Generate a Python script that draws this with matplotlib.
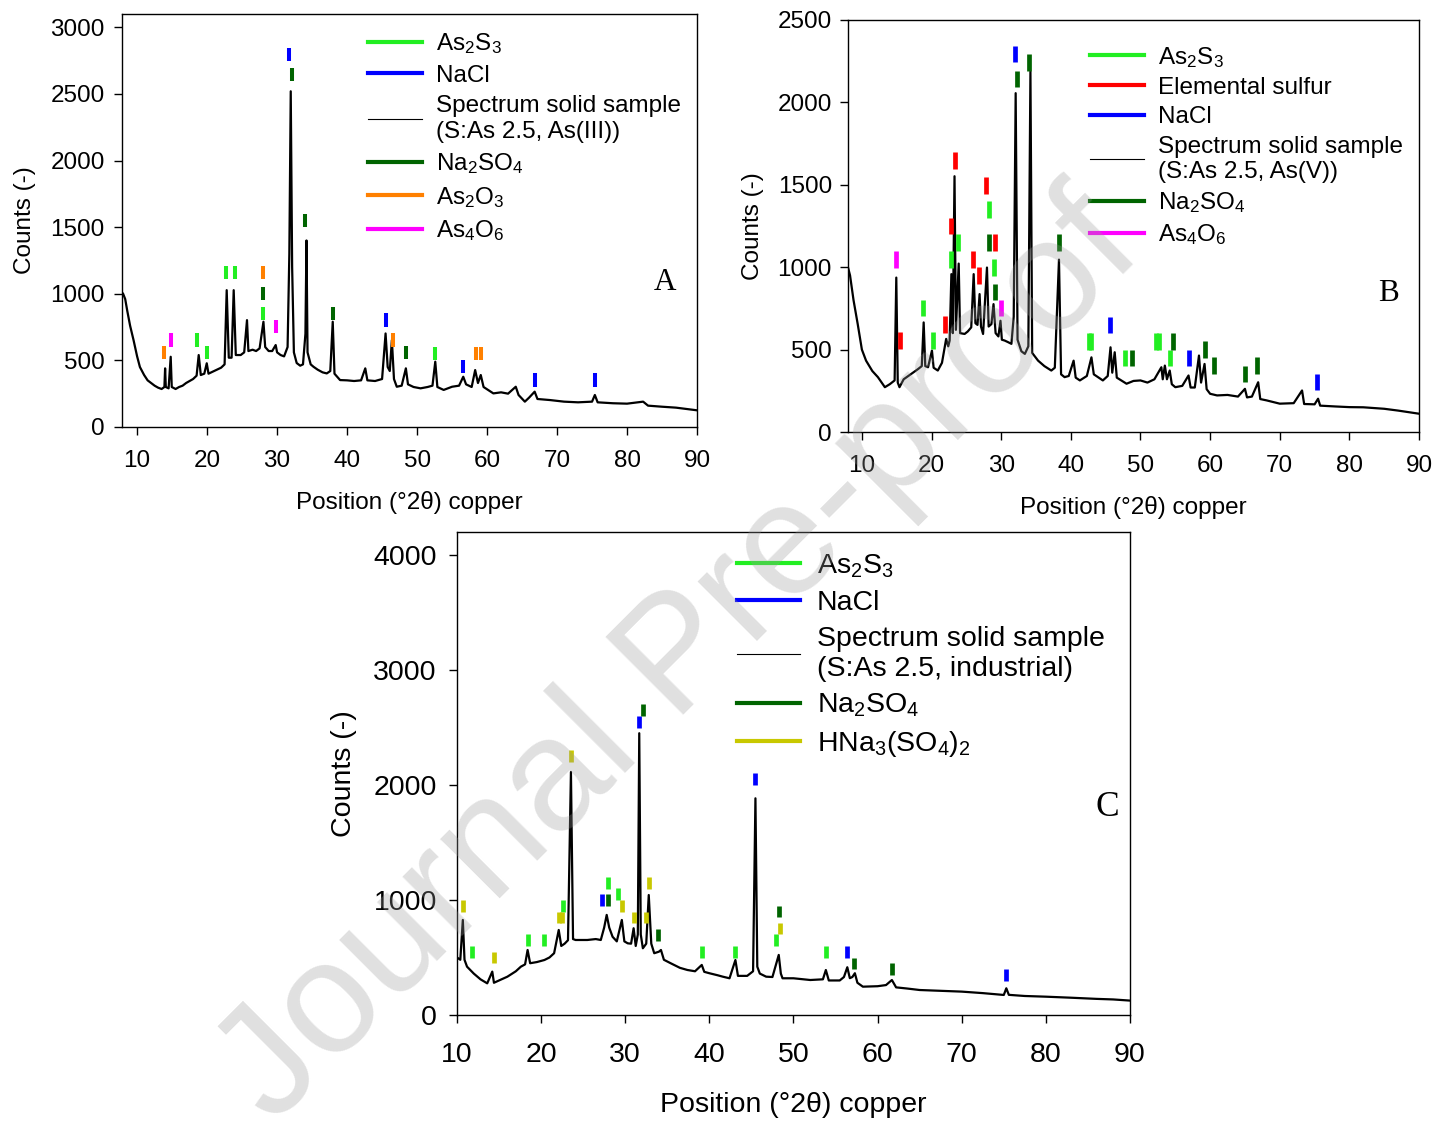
import matplotlib
matplotlib.use('Agg')
import matplotlib.pyplot as plt
from matplotlib.lines import Line2D

plt.rcParams['font.family'] = ['Liberation Sans', 'DejaVu Sans']
plt.rcParams['mathtext.fontset'] = 'custom'
plt.rcParams['mathtext.rm'] = 'Liberation Sans'
plt.rcParams['mathtext.it'] = 'Liberation Sans'
plt.rcParams['mathtext.default'] = 'regular'

# phase colours
GREEN = '#22ee22'
BLUE = '#0000ff'
DKGREEN = '#006400'
ORANGE = '#ff8000'
MAGENTA = '#ff00ff'
RED = '#ff0000'
YELLOW = '#c8c800'

# ---- panel A: S:As 2.5, As(III) ----
angle_a = [8.0, 8.3, 8.6, 9.0, 9.5, 10.0, 10.4, 11.0, 11.5, 12.0, 12.5, 13.0, 13.5, 13.9, 14.0,
           14.1, 14.5, 14.8, 14.95, 15.5, 16.0, 16.5, 17.0, 17.5, 18.0, 18.5, 18.8, 19.1, 19.6,
           19.95, 20.2, 21.0, 22.0, 22.5, 22.8, 23.1, 23.5, 23.8, 24.1, 24.8, 25.3, 25.7, 25.9,
           26.5, 27.0, 27.5, 28.05, 28.3, 28.8, 29.3, 29.8, 30.0, 30.5, 31.0, 31.5, 31.75, 31.95,
           32.15, 32.4, 32.8, 33.3, 33.7, 34.05, 34.2, 34.35, 34.8, 35.2, 35.8, 36.5, 37.1, 37.6,
           37.95, 38.2, 39.0, 40.0, 41.0, 42.0, 42.6, 42.9, 44.0, 45.0, 45.5, 45.8, 46.1, 46.4,
           46.7, 47.1, 47.8, 48.4, 48.7, 49.5, 50.5, 51.5, 52.2, 52.6, 52.9, 53.8, 55.0, 56.0,
           56.6, 57.0, 57.8, 58.3, 58.7, 59.1, 59.5, 60.9, 62.0, 63.0, 64.1, 64.5, 65.4, 66.0,
           66.8, 67.2, 69.0, 71.0, 73.0, 75.0, 75.4, 75.8, 78.0, 80.0, 82.3, 83.0, 85.0, 87.0,
           88.5, 90.0]
counts_a = [1000, 960, 870, 760, 650, 530, 450, 390, 350, 330, 310, 295, 285, 300, 440,
            300, 290, 527, 300, 285, 300, 310, 330, 345, 360, 385, 540, 390, 400,
            478, 400, 420, 445, 470, 1027, 520, 520, 1027, 540, 540, 560, 802, 570,
            580, 570, 590, 790, 600, 570, 570, 615, 560, 540, 530, 600, 1300, 2520,
            1200, 560, 480, 460, 470, 700, 1400, 560, 470, 452, 430, 410, 402, 420,
            790, 400, 352, 350, 345, 350, 440, 350, 345, 360, 702, 450, 420, 652,
            360, 302, 310, 440, 320, 300, 290, 300, 310, 490, 300, 278, 302, 310,
            377, 320, 300, 427, 330, 390, 300, 252, 260, 250, 302, 240, 190, 220,
            265, 210, 202, 190, 185, 190, 240, 185, 178, 175, 190, 160, 152, 145,
            135, 125]

as2s3_a = [(18.6, 602), (19.95, 508), (22.7, 1108), (24.0, 1108), (28.0, 802), (52.5, 502)]
nacl_a = [(31.7, 2747), (45.5, 752), (56.5, 402), (66.8, 302), (75.4, 302)]
na2so4_a = [(28.0, 952), (32.2, 2597), (34.0, 1502), (38.0, 802), (48.4, 508)]
as2o3_a = [(13.8, 508), (28.0, 1108), (46.5, 602), (58.4, 502), (59.2, 502)]
as4o6_a = [(14.8, 602), (29.9, 702)]

# ---- panel B: S:As 2.5, As(V) ----
angle_b = [8.0, 8.3, 8.8, 9.4, 10.0, 10.6, 11.5, 12.3, 13.3, 14.0, 14.7, 14.94, 15.15, 15.4,
           16.0, 17.1, 18.0, 18.6, 18.87, 19.1, 19.5, 20.06, 20.3, 20.9, 21.5, 22.1, 22.4,
           22.6, 22.85, 23.05, 23.3, 23.5, 23.9, 24.1, 24.75, 25.2, 25.7, 26.05, 26.3, 26.6,
           26.9, 27.1, 27.4, 27.96, 28.2, 28.6, 28.9, 29.2, 29.6, 29.9, 30.1, 30.5, 31.0,
           31.47, 31.8, 32.08, 32.35, 32.9, 33.4, 33.9, 34.2, 34.45, 35.3, 36.2, 37.2, 37.7,
           38.3, 38.6, 39.1, 39.7, 40.4, 40.7, 41.3, 42.3, 42.96, 43.3, 44.6, 45.3, 45.7,
           45.95, 46.3, 46.6, 48.0, 49.0, 50.0, 51.0, 52.0, 53.0, 53.2, 53.5, 53.8, 54.2,
           54.5, 55.0, 56.0, 56.9, 57.2, 57.8, 58.4, 58.7, 59.2, 59.5, 60.0, 61.0, 62.5,
           64.0, 65.0, 65.3, 66.0, 66.9, 67.2, 68.1, 70.0, 72.0, 73.2, 73.5, 75.0, 75.5,
           75.8, 78.0, 80.0, 82.0, 85.0, 87.0, 90.0]
counts_b = [1000, 950, 800, 655, 500, 433, 370, 333, 272, 290, 313, 937, 300, 272,
            320, 353, 380, 400, 665, 400, 393, 494, 390, 373, 420, 565, 520,
            555, 958, 600, 1552, 620, 1022, 600, 595, 610, 635, 958, 660, 650,
            837, 640, 595, 998, 640, 655, 776, 600, 580, 675, 560, 555, 545,
            535, 700, 2056, 560, 490, 474, 520, 2187, 480, 433, 400, 373, 390,
            1046, 350, 333, 340, 433, 330, 313, 340, 453, 350, 313, 340, 514,
            360, 484, 330, 293, 310, 313, 300, 320, 393, 320, 403, 320, 373,
            290, 272, 280, 343, 270, 270, 464, 300, 413, 260, 232, 222, 225,
            215, 262, 210, 215, 302, 200, 192, 172, 175, 252, 170, 168, 202,
            160, 155, 151, 150, 141, 130, 111]

as2s3_b = [(18.8, 701), (20.2, 504), (22.8, 998), (23.8, 1099), (28.2, 1300), (28.9, 947),
           (42.65, 500), (42.95, 500), (47.85, 399), (52.3, 500), (52.6, 500), (54.3, 399)]
sulfur_b = [(15.5, 504), (22.0, 601), (22.8, 1200), (23.3, 1596), (26.0, 998), (26.87, 901),
            (27.8, 1447), (29.1, 1099)]
nacl_b = [(31.94, 2244), (45.6, 599), (56.95, 399), (75.4, 252)]
na2so4_b = [(28.2, 1099), (29.1, 800), (32.2, 2092), (34.0, 2191), (38.3, 1099), (48.8, 399),
            (54.7, 500), (59.3, 450), (60.5, 353), (65.0, 302), (66.8, 353)]
as4o6_b = [(14.94, 998), (29.97, 701)]

# ---- panel C: S:As 2.5, industrial ----
angle_c = [10.0, 10.4, 10.7, 10.9, 11.2, 12.0, 12.8, 13.6, 14.2, 14.4, 15.0, 16.0, 17.0, 17.6,
           18.1, 18.4, 18.7, 19.5, 20.4, 21.0, 21.55, 22.1, 22.4, 22.8, 23.2, 23.55, 23.8,
           24.1, 25.5, 26.5, 27.1, 27.5, 27.8, 28.1, 28.5, 29.0, 29.6, 29.9, 30.3, 30.7,
           31.0, 31.25, 31.5, 31.67, 31.85, 32.1, 32.5, 32.8, 33.1, 33.45, 34.0, 34.25,
           34.6, 35.4, 36.5, 37.4, 38.3, 39.1, 39.4, 40.0, 41.0, 41.6, 42.4, 43.1, 43.4,
           44.5, 45.2, 45.48, 45.7, 46.0, 46.75, 47.5, 48.25, 48.5, 48.7, 50.0, 52.0, 53.5,
           53.85, 54.2, 55.5, 56.0, 56.4, 56.7, 57.0, 57.3, 57.6, 58.25, 60.0, 61.0, 61.7,
           62.2, 63.5, 65.0, 67.5, 70.0, 72.5, 75.0, 75.3, 75.6, 77.5, 80.0, 83.0, 86.0,
           88.0, 90.0]
counts_c = [500, 480, 826, 480, 420, 360, 310, 275, 377, 280, 300, 333, 380, 420,
            440, 565, 450, 460, 478, 500, 537, 739, 600, 620, 650, 2113, 660,
            652, 652, 660, 652, 760, 870, 760, 680, 640, 826, 640, 623, 620,
            754, 600, 700, 2450, 700, 580, 620, 1043, 620, 537, 550, 565,
            480, 450, 410, 391, 380, 435, 375, 363, 345, 333, 319, 478, 340,
            340, 380, 1884, 420, 360, 333, 330, 522, 360, 319, 319, 304, 310,
            391, 300, 300, 330, 415, 320, 330, 363, 280, 246, 250, 260, 304,
            240, 230, 217, 210, 203, 190, 174, 232, 175, 165, 159, 150, 140,
            135, 125]

as2s3_c = [(11.8, 498), (18.45, 600), (20.4, 600), (22.6, 898), (27.9, 1096), (29.2, 1000),
           (39.1, 498), (43.1, 498), (47.9, 600), (53.85, 498)]
nacl_c = [(27.3, 948), (31.67, 2498), (45.44, 2000), (56.4, 498), (75.24, 298)]
na2so4_c = [(27.9, 948), (32.06, 2600), (33.9, 646), (48.33, 850), (57.2, 397), (61.7, 348)]
hna3_c = [(10.7, 898), (14.4, 450), (22.1, 797), (22.5, 797), (23.6, 2200), (29.6, 898),
          (31.0, 797), (32.5, 797), (32.8, 1096), (48.45, 702)]


def draw_panel(ax, angle, counts, phases, spectrum_label, spectrum_slot, xlim, ylim, ystep,
               letter, letter_xy, fs, mark_w, leg_anchor, leg_space, xpad, ypad, xlpad, ylpad):
    ax.plot(angle, counts, color='black', lw=1.6, zorder=3)
    for name, color, marks in phases:
        for pos, base in marks:
            ax.vlines(pos, base, base + 100, colors=color, lw=mark_w, zorder=4)

    handles = [Line2D([], [], color=c, lw=3) for _, c, _ in phases]
    labels = [n for n, _, _ in phases]
    handles.insert(spectrum_slot, Line2D([], [], color='black', lw=0.8))
    labels.insert(spectrum_slot, spectrum_label)
    ax.legend(handles, labels, loc='upper left', bbox_to_anchor=leg_anchor, frameon=False,
              fontsize=fs, handlelength=2.2, handletextpad=0.6, labelspacing=leg_space,
              borderpad=0, borderaxespad=0)

    ax.set_xlim(*xlim)
    ax.set_ylim(*ylim)
    ax.set_xticks(range(10, 91, 10))
    ax.set_yticks(range(0, int(ylim[1]) + 1, ystep))
    ax.tick_params(direction='out', length=6, width=1, labelsize=fs, top=False, right=False)
    ax.tick_params(axis='x', pad=xpad)
    ax.tick_params(axis='y', pad=ypad)
    for sp in ax.spines.values():
        sp.set_linewidth(1)
    ax.set_xlabel('Position (°2θ) copper', fontsize=fs, labelpad=xlpad)
    ax.set_ylabel('Counts (-)', fontsize=fs, labelpad=ylpad)
    ax.text(letter_xy[0], letter_xy[1], letter, transform=ax.transAxes, ha='center',
            va='center', fontsize=fs + 5, family='Liberation Serif')


fig = plt.figure(figsize=(14.36, 11.23), dpi=100)
ax_a = fig.add_axes([0.085, 0.6198, 0.4004, 0.3677])
ax_b = fig.add_axes([0.5905, 0.6153, 0.3977, 0.3669])
ax_c = fig.add_axes([0.3182, 0.0962, 0.4687, 0.4301])

draw_panel(ax_a, angle_a, counts_a,
           [('As$_2$S$_3$', GREEN, as2s3_a), ('NaCl', BLUE, nacl_a),
            ('Na$_2$SO$_4$', DKGREEN, na2so4_a), ('As$_2$O$_3$', ORANGE, as2o3_a),
            ('As$_4$O$_6$', MAGENTA, as4o6_a)],
           'Spectrum solid sample\n(S:As 2.5, As(III))', 2,
           (7.85, 90), (0, 3100), 500, 'A', (0.944, 0.349), 17.5, 2.9, (0.428, 0.958),
           0.35, 10.5, 6.5, 14, 10)

draw_panel(ax_b, angle_b, counts_b,
           [('As$_2$S$_3$', GREEN, as2s3_b), ('Elemental sulfur', RED, sulfur_b),
            ('NaCl', BLUE, nacl_b), ('Na$_2$SO$_4$', DKGREEN, na2so4_b),
            ('As$_4$O$_6$', MAGENTA, as4o6_b)],
           'Spectrum solid sample\n(S:As 2.5, As(V))', 3,
           (8, 90), (0, 2500), 500, 'B', (0.947, 0.337), 17.5, 3.4, (0.424, 0.94),
           0.3, 10.5, 5.5, 14, 10)

draw_panel(ax_c, angle_c, counts_c,
           [('As$_2$S$_3$', GREEN, as2s3_c), ('NaCl', BLUE, nacl_c),
            ('Na$_2$SO$_4$', DKGREEN, na2so4_c), ('HNa$_3$(SO$_4$)$_2$', YELLOW, hna3_c)],
           'Spectrum solid sample\n(S:As 2.5, industrial)', 2,
           (10, 90), (0, 4200), 1000, 'C', (0.966, 0.429), 20.5, 3.4, (0.416, 0.958),
           0.35, 13.5, 8.5, 17, 12)

# diagonal watermark across the sheet
fig.text(0.4735, 0.4123, 'Journal Pre-proof', rotation=45, fontsize=115, color='0.6',
         alpha=0.3, ha='center', va='center')

fig.savefig('out.png', dpi=100)
